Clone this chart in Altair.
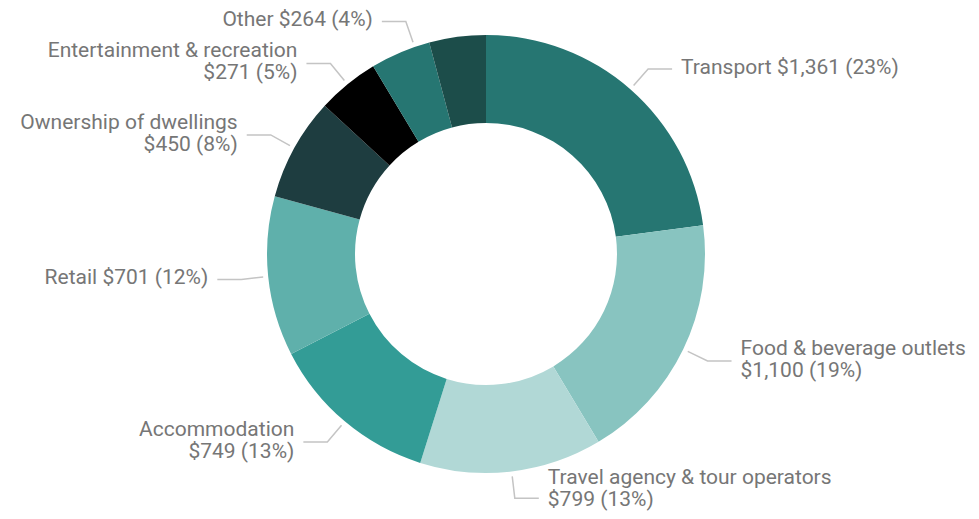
import math
import altair as alt
import pandas as pd

# ---- data ----
categories = [
    "Transport", "Food & beverage outlets", "Travel agency & tour operators",
    "Accommodation", "Retail", "Ownership of dwellings",
    "Entertainment & recreation", "Other", "Unlabelled",
]
values = [1361, 1100, 799, 749, 701, 450, 271, 264, 248]
percents = [23, 19, 13, 13, 12, 8, 5, 4, None]
two_line = [False, True, True, True, False, True, True, False, False]
colors = ["#267672", "#88c4c0", "#b1d8d6", "#339c96", "#5fb0ab",
          "#1e3d40", "#000000", "#267672", "#1c4d4a"]

# ---- layout constants ----
W, H = 963, 503
CX, CY = 478, 246
R_OUT, R_IN = 219, 131
R_START, R_ELBOW = R_OUT + 5, R_OUT + 27
HLEN, GAP = 24, 9
LINE_H = 22
FONT_SIZE = 21
# small layout nudges, as the reference's label layout does
angle_nudge = {"Other": 4.0}
text_shift = {"Travel agency & tour operators": -8}

df = pd.DataFrame({"cat": categories, "value": values, "idx": range(len(values))})

total = sum(values)
line_rows, text_rows = [], []
cum = 0.0
for i, (c, v, p, tl) in enumerate(zip(categories, values, percents, two_line)):
    mid = (cum + v / 2) / total * 2 * math.pi + math.radians(angle_nudge.get(c, 0.0))
    cum += v
    if p is None:
        continue
    s, co = math.sin(mid), math.cos(mid)
    x0, y0 = CX + R_START * s, CY - R_START * co
    x1, y1 = CX + R_ELBOW * s, CY - R_ELBOW * co
    side = 1 if s >= 0 else -1
    x2 = x1 + side * HLEN
    for k, (px, py) in enumerate([(x0, y0), (x1, y1), (x2, y1)]):
        line_rows.append({"cat": c, "k": k, "x": px, "y": py})
    amount = f"${v:,} ({p}%)"
    label = f"{c}\n{amount}" if tl else f"{c} {amount}"
    ty = (y1 - (LINE_H / 2 + 1) if tl else y1 - 1) + text_shift.get(c, 0)
    text_rows.append({"cat": c, "label": label, "x": x2 + side * GAP, "y": ty,
                      "align": "left" if side > 0 else "right"})

lines_df = pd.DataFrame(line_rows)
text_df = pd.DataFrame(text_rows)

xs = alt.Scale(domain=[0, W], range=[0, W], nice=False, zero=False)
ys = alt.Scale(domain=[0, H], range=[0, H], nice=False, zero=False)

arcs = alt.Chart(df).mark_arc(innerRadius=R_IN, outerRadius=R_OUT).encode(
    theta=alt.Theta("value:Q", stack=True),
    order=alt.Order("idx:Q"),
    color=alt.Color("cat:N", scale=alt.Scale(domain=categories, range=colors), legend=None),
    x=alt.value(CX),
    y=alt.value(CY),
)

leaders = alt.Chart(lines_df).mark_line(color="#c4c4c4", strokeWidth=1.5).encode(
    x=alt.X("x:Q", scale=xs, axis=None),
    y=alt.Y("y:Q", scale=ys, axis=None),
    detail="cat:N",
    order="k:Q",
)

font = "Roboto"


def labels(align):
    return alt.Chart(text_df[text_df["align"] == align]).mark_text(
        align=align, baseline="middle", font=font, fontSize=FONT_SIZE, color="#767676",
        lineBreak="\n", lineHeight=LINE_H,
    ).encode(
        x=alt.X("x:Q", scale=xs, axis=None),
        y=alt.Y("y:Q", scale=ys, axis=None),
        text="label:N",
    )


chart = alt.layer(arcs, leaders, labels("left"), labels("right")).properties(
    width=W, height=H, padding=0, autosize=alt.AutoSizeParams(type="none"),
).configure_view(stroke=None)

chart.save("out.html", embed_options={"renderer": "svg", "actions": False})
